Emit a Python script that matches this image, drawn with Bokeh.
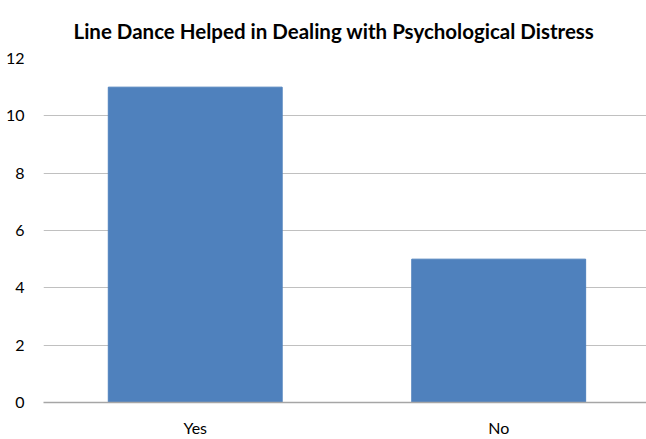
from bokeh.plotting import figure
from bokeh.models import Range1d, FixedTicker
from bokeh.embed import file_html
from bokeh.resources import INLINE

categories = ["Yes", "No"]
counts = [11, 5]
y_ticks = [0, 2, 4, 6, 8, 10, 12]
title_text = "Line Dance Helped in Dealing with Psychological Distress"

xs = [i + 0.5 for i in range(len(categories))]

FONT = "Lato"

p = figure(width=646, height=439, output_backend="svg", toolbar_location=None,
           x_range=Range1d(0, 1.987), y_range=Range1d(0, 12),
           min_border_left=43, min_border_right=0, min_border_top=58, min_border_bottom=37,
           title=title_text)
p.outline_line_color = None
p.background_fill_color = "white"

p.title.align = "left"
p.title.offset = 30
p.title.standoff = 31
p.title.text_font = FONT
p.title.text_font_style = "bold"
p.title.text_font_size = "20.5px"
p.title.text_color = "#000000"

p.vbar(x=xs, top=counts, width=0.573, color="#4F81BD", line_color="#4F81BD")

p.yaxis.ticker = FixedTicker(ticks=y_ticks)
p.yaxis.axis_line_color = None
p.yaxis.major_tick_line_color = None
p.yaxis.minor_tick_line_color = None
p.yaxis.major_label_standoff = 13
p.yaxis.major_label_text_font = FONT
p.yaxis.major_label_text_font_size = "16px"
p.yaxis.major_label_text_color = "#000000"

p.xaxis.ticker = FixedTicker(ticks=xs)
p.xaxis.major_label_overrides = {x: c for x, c in zip(xs, categories)}
p.xaxis.axis_line_color = "#a6a6a6"
p.xaxis.axis_line_width = 1.5
p.xaxis.major_tick_line_color = None
p.xaxis.minor_tick_line_color = None
p.xaxis.major_tick_out = 0
p.xaxis.major_label_standoff = 15
p.xaxis.major_label_text_font = FONT
p.xaxis.major_label_text_font_size = "16px"
p.xaxis.major_label_text_color = "#000000"

p.xgrid.grid_line_color = None
p.ygrid.grid_line_color = "#c0c0c0"
p.ygrid.grid_line_width = 1.2

open("out.html", "w").write(file_html(p, INLINE))
